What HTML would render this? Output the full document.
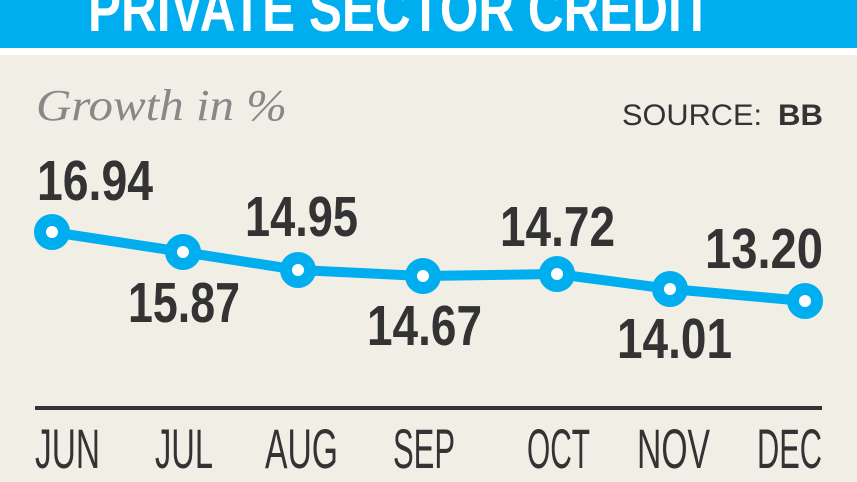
<!DOCTYPE html>
<html><head><style>
html,body{margin:0;padding:0;background:#f1eee6;}
svg{display:block;}
</style></head><body>
<svg width="857" height="482" viewBox="0 0 857 482" xmlns="http://www.w3.org/2000/svg">
<rect width="857" height="482" fill="#f1eee6"/>
<rect width="857" height="48" fill="#00aeef"/>
<rect y="48" width="857" height="7" fill="#ffffff"/>
<text x="88" y="31" font-family="Liberation Sans, sans-serif" font-weight="bold" font-size="64" fill="#fff" textLength="624" lengthAdjust="spacingAndGlyphs">PRIVATE SECTOR CREDIT</text>
<text x="36" y="120" font-family="Liberation Serif, serif" font-style="italic" font-size="44" fill="#888" textLength="251" lengthAdjust="spacingAndGlyphs">Growth in %</text>
<text x="622" y="125" font-family="Liberation Sans, sans-serif" font-size="30" fill="#333" textLength="140" lengthAdjust="spacingAndGlyphs">SOURCE:</text>
<text x="778" y="125" font-family="Liberation Sans, sans-serif" font-weight="bold" font-size="30" fill="#333" textLength="45" lengthAdjust="spacingAndGlyphs">BB</text>
<polyline points="52,232 183,252 298,270 423,276 557,274 670,289 805,301" fill="none" stroke="#00aeef" stroke-width="10" stroke-linejoin="round"/>
<g fill="#fff" stroke="#00aeef" stroke-width="12">
<circle cx="52" cy="232" r="12"/><circle cx="183" cy="252" r="12"/><circle cx="298" cy="270" r="12"/><circle cx="423" cy="276" r="12"/><circle cx="557" cy="274" r="12"/><circle cx="670" cy="289" r="12"/><circle cx="805" cy="301" r="12"/>
</g>
<g font-family="Liberation Sans, sans-serif" font-weight="bold" font-size="57" fill="#333">
<text x="37" y="200" textLength="116" lengthAdjust="spacingAndGlyphs">16.94</text>
<text x="128" y="322" textLength="112" lengthAdjust="spacingAndGlyphs">15.87</text>
<text x="245" y="236" textLength="113" lengthAdjust="spacingAndGlyphs">14.95</text>
<text x="367" y="345" textLength="115" lengthAdjust="spacingAndGlyphs">14.67</text>
<text x="500" y="246" textLength="115" lengthAdjust="spacingAndGlyphs">14.72</text>
<text x="617" y="358" textLength="115" lengthAdjust="spacingAndGlyphs">14.01</text>
<text x="705" y="268" textLength="118" lengthAdjust="spacingAndGlyphs">13.20</text>
</g>
<rect x="35" y="406" width="787" height="4" fill="#333"/>
<g font-family="Liberation Sans, sans-serif" font-size="56" fill="#333">
<text x="35" y="468" textLength="65" lengthAdjust="spacingAndGlyphs">JUN</text>
<text x="155" y="468" textLength="58" lengthAdjust="spacingAndGlyphs">JUL</text>
<text x="265" y="468" textLength="73" lengthAdjust="spacingAndGlyphs">AUG</text>
<text x="393" y="468" textLength="62" lengthAdjust="spacingAndGlyphs">SEP</text>
<text x="527" y="468" textLength="63" lengthAdjust="spacingAndGlyphs">OCT</text>
<text x="637" y="468" textLength="73" lengthAdjust="spacingAndGlyphs">NOV</text>
<text x="757" y="468" textLength="65" lengthAdjust="spacingAndGlyphs">DEC</text>
</g>
</svg>
</body></html>
